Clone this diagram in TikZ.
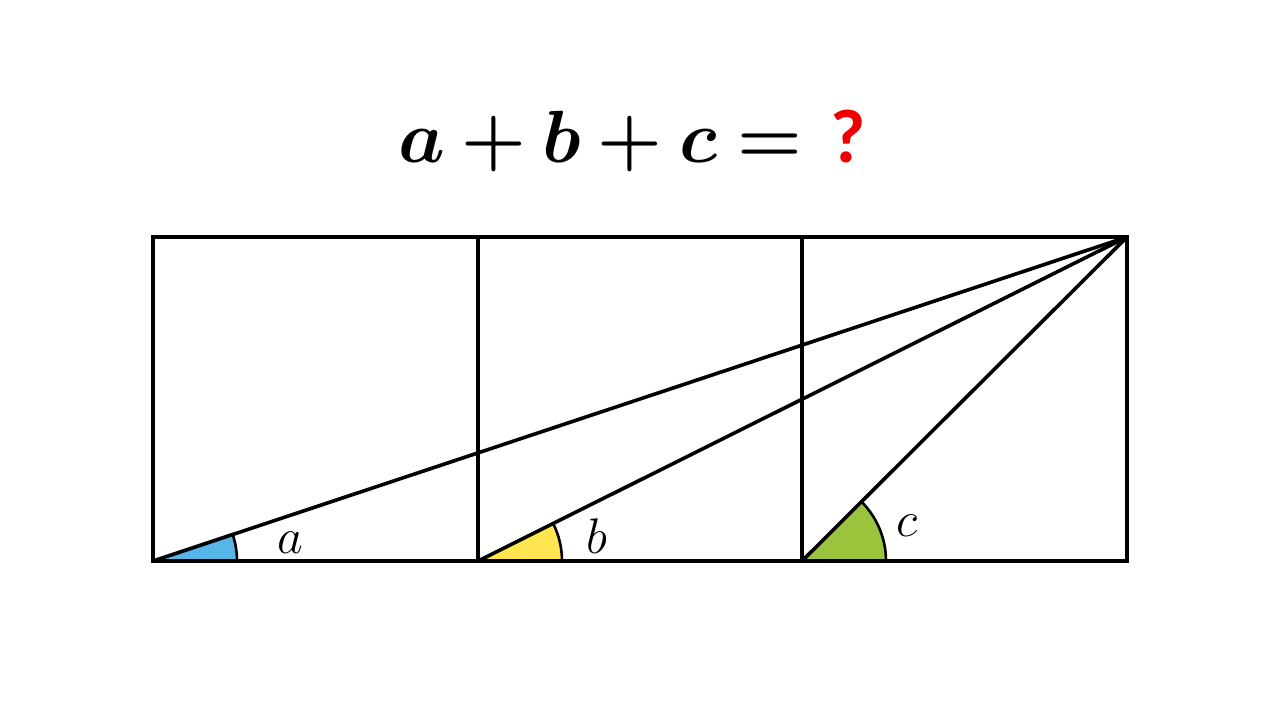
\RequirePackage{fix-cm}
\documentclass[tikz,border=0pt]{standalone}
\usepackage{fontspec}
\usepackage{amsmath}
\usepackage{bm}
\usepackage{xcolor}
\newfontfamily\qfont{Carlito}
\definecolor{angleblue}{RGB}{86,182,232}
\definecolor{angleyellow}{RGB}{255,230,80}
\definecolor{anglegreen}{RGB}{154,196,60}
\definecolor{qred}{RGB}{238,0,0}

\begin{document}
\begin{tikzpicture}[x=0.5pt,y=0.5pt,line width=1.8pt]
        \useasboundingbox (0,0) rectangle (1280,720);
        \pgfmathsetmacro{\arcr}{84}

        \coordinate (p0) at (153,159);
        \coordinate (p1) at (478,159);
        \coordinate (p2) at (802,159);
        \coordinate (p3) at (1127,159);
        \coordinate (q0) at (153,483);
        \coordinate (q1) at (478,483);
        \coordinate (q2) at (802,483);
        \coordinate (q3) at (1127,483);

        % angles at the bottom
        \fill[angleblue] (p0) -- ++(0:\arcr) arc[start angle=0,end angle=18.4,radius=\arcr] -- cycle;
        \fill[angleyellow] (p1) -- ++(0:\arcr) arc[start angle=0,end angle=26.5,radius=\arcr] -- cycle;
        \fill[anglegreen] (p2) -- ++(0:\arcr) arc[start angle=0,end angle=45,radius=\arcr] -- cycle;
        \draw[line width=1.3pt] (p0) ++(0:\arcr) arc[start angle=0,end angle=18.4,radius=\arcr];
        \draw[line width=1.3pt] (p1) ++(0:\arcr) arc[start angle=0,end angle=26.5,radius=\arcr];
        \draw[line width=1.3pt] (p2) ++(0:\arcr) arc[start angle=0,end angle=45,radius=\arcr];

        \draw (p0) rectangle (q3);
        \draw (p1) -- (q1);
        \draw (p2) -- (q2);
        \draw (q3) -- (p0);
        \draw (q3) -- (p1);
        \draw (q3) -- (p2);

        \node[anchor=base] (la) at (290,167) {\fontsize{25}{30}\selectfont\(a\)};
        \node[anchor=base] (lb) at (597,167) {\fontsize{25}{30}\selectfont\(b\)};
        \node[anchor=base] (lc) at (907,184) {\fontsize{25}{30}\selectfont\(c\)};

        \node[anchor=base] (title) at (632,558) {\fontsize{37}{44}\selectfont\(\bm{a+b+c=}\)\hspace{14pt}{\fontsize{38}{44}\selectfont\qfont\bfseries\color{qred}?}};
    \end{tikzpicture}
\end{document}
